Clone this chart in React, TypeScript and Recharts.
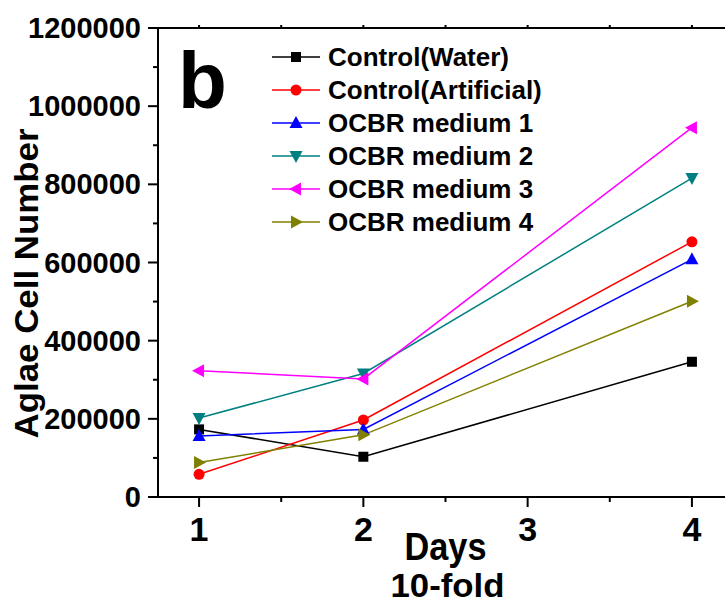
import React from "react";
import { LineChart, Line, XAxis, YAxis, Legend } from "recharts";

// Days sampled (x values)
const days = [1, 2, 4];

// Cell counts
const controlWater = [173000, 103000, 346000];
const controlArtificial = [58000, 197000, 653000];
const ocbrMedium1 = [156000, 173000, 608000];
const ocbrMedium2 = [202000, 316000, 816000];
const ocbrMedium3 = [323000, 302000, 945000];
const ocbrMedium4 = [88000, 159000, 501000];

const yTicks = [
  0, 100000, 200000, 300000, 400000, 500000, 600000, 700000, 800000, 900000,
  1000000, 1100000, 1200000,
];
const xTicks = [1, 1.5, 2, 2.5, 3, 3.5, 4];

const FONT = "'Liberation Sans', Arial, Helvetica, sans-serif";

type Shape = "square" | "circle" | "up" | "down" | "left" | "right";

const series: { key: string; name: string; color: string; shape: Shape; values: number[] }[] = [
  { key: "cw", name: "Control(Water)", color: "#000000", shape: "square", values: controlWater },
  { key: "ca", name: "Control(Artificial)", color: "#ff0000", shape: "circle", values: controlArtificial },
  { key: "m1", name: "OCBR medium 1", color: "#0000ff", shape: "up", values: ocbrMedium1 },
  { key: "m2", name: "OCBR medium 2", color: "#008080", shape: "down", values: ocbrMedium2 },
  { key: "m3", name: "OCBR medium 3", color: "#ff00ff", shape: "left", values: ocbrMedium3 },
  { key: "m4", name: "OCBR medium 4", color: "#808000", shape: "right", values: ocbrMedium4 },
];

const data = days.map((day, i) => {
  const row: Record<string, number> = { day };
  series.forEach((s) => (row[s.key] = s.values[i]));
  return row;
});

function Marker({ shape, cx, cy, color }: { shape: Shape; cx: number; cy: number; color: string }) {
  switch (shape) {
    case "square":
      return <rect x={cx - 5} y={cy - 5} width={10} height={10} fill={color} />;
    case "circle":
      return <circle cx={cx} cy={cy} r={5.5} fill={color} />;
    case "up":
      return <polygon points={`${cx},${cy - 7} ${cx - 6.5},${cy + 5} ${cx + 6.5},${cy + 5}`} fill={color} />;
    case "down":
      return <polygon points={`${cx - 6.5},${cy - 5} ${cx + 6.5},${cy - 5} ${cx},${cy + 7}`} fill={color} />;
    case "left":
      return <polygon points={`${cx - 7},${cy} ${cx + 5},${cy - 6.5} ${cx + 5},${cy + 6.5}`} fill={color} />;
    default:
      return <polygon points={`${cx + 7},${cy} ${cx - 5},${cy - 6.5} ${cx - 5},${cy + 6.5}`} fill={color} />;
  }
}

function YTick(props: any) {
  const { x, y, payload } = props;
  const major = payload.value % 200000 === 0;
  return (
    <g>
      <line x1={x - (major ? 10 : 5)} x2={x} y1={y} y2={y} stroke="#000" strokeWidth={2} />
      {major && (
        <text x={x - 17} y={y + 10} textAnchor="end" fontSize={29} fontWeight="bold" fontFamily={FONT} fill="#000">
          {payload.value}
        </text>
      )}
    </g>
  );
}

function XTick(props: any) {
  const { x, y, payload } = props;
  const major = Number.isInteger(payload.value);
  return (
    <g>
      <line x1={x} x2={x} y1={y} y2={y + (major ? 10 : 5)} stroke="#000" strokeWidth={2} />
      {major && (
        <text x={x} y={y + 44} textAnchor="middle" fontSize={34} fontWeight="bold" fontFamily={FONT} fill="#000">
          {payload.value}
        </text>
      )}
    </g>
  );
}

function TopTick(props: any) {
  const { x, y } = props;
  return <line x1={x} x2={x} y1={y} y2={y - 3} stroke="#000" strokeWidth={2} />;
}

function XLabel(props: any) {
  const { viewBox } = props;
  const cx = viewBox.x + viewBox.width / 2;
  return (
    <g fontFamily={FONT} fontWeight="bold" fill="#000">
      <text x={cx} y={viewBox.y + 63} textAnchor="middle" fontSize={38} textLength={82} lengthAdjust="spacingAndGlyphs">
        Days
      </text>
      <text x={cx + 2} y={viewBox.y + 100} textAnchor="middle" fontSize={34} textLength={114} lengthAdjust="spacingAndGlyphs">
        10-fold
      </text>
    </g>
  );
}

function YLabel(props: any) {
  const { viewBox } = props;
  const cy = viewBox.y + viewBox.height / 2 + 21;
  const cx = 38;
  return (
    <text
      x={cx}
      y={cy}
      transform={`rotate(-90, ${cx}, ${cy})`}
      textAnchor="middle"
      fontSize={33}
      fontWeight="bold"
      fontFamily={FONT}
      fill="#000"
      textLength={310}
      lengthAdjust="spacingAndGlyphs"
    >
      Aglae Cell Number
    </text>
  );
}

function LegendBox() {
  return (
    <svg width={725} height={260} style={{ display: "block" }}>
      <text x={178} y={108} fontSize={80} fontWeight="bold" fontFamily={FONT} fill="#000">
        b
      </text>
      {series.map((s, i) => {
        const cy = 57 + i * 33;
        return (
          <g key={s.key}>
            <line x1={272} x2={320} y1={cy} y2={cy} stroke={s.color} strokeWidth={1.5} />
            <Marker shape={s.shape} cx={296} cy={cy} color={s.color} />
            <text x={328} y={cy + 9} fontSize={26} fontWeight="bold" fontFamily={FONT} fill="#000">
              {s.name}
            </text>
          </g>
        );
      })}
    </svg>
  );
}

export default function App() {
  return (
    <div style={{ position: "absolute", left: 0, top: 0, width: 725, height: 603, overflow: "hidden", background: "#fff" }}>
      <LineChart width={745} height={603} data={data} margin={{ top: 18, right: 12, bottom: 0, left: 0 }}>
        <XAxis
          dataKey="day"
          type="number"
          domain={[0.75, 4.25]}
          ticks={xTicks}
          interval={0}
          height={106}
          tickSize={0}
          tickMargin={0}
          tickLine={false}
          axisLine={{ stroke: "#000", strokeWidth: 2 }}
          tick={<XTick />}
          label={<XLabel />}
        />
        <XAxis
          xAxisId="top"
          orientation="top"
          dataKey="day"
          type="number"
          domain={[0.75, 4.25]}
          ticks={xTicks}
          interval={0}
          height={10}
          tickSize={0}
          tickMargin={0}
          tickLine={false}
          axisLine={{ stroke: "#000", strokeWidth: 2 }}
          tick={<TopTick />}
        />
        <YAxis
          type="number"
          domain={[0, 1200000]}
          ticks={yTicks}
          interval={0}
          width={158}
          tickSize={0}
          tickMargin={0}
          tickLine={false}
          axisLine={{ stroke: "#000", strokeWidth: 2 }}
          tick={<YTick />}
          label={<YLabel />}
        />
        <Legend
          layout="vertical"
          align="center"
          verticalAlign="middle"
          content={<LegendBox />}
          wrapperStyle={{ left: 0, top: 0, width: 725, height: 260, pointerEvents: "none" }}
        />
        {series.map((s) => (
          <Line
            key={s.key}
            dataKey={s.key}
            name={s.name}
            stroke={s.color}
            strokeWidth={1.5}
            isAnimationActive={false}
            activeDot={false}
            dot={(p: any) => <Marker key={`${s.key}-${p.index}`} shape={s.shape} cx={p.cx} cy={p.cy} color={s.color} />}
          />
        ))}
      </LineChart>
    </div>
  );
}
